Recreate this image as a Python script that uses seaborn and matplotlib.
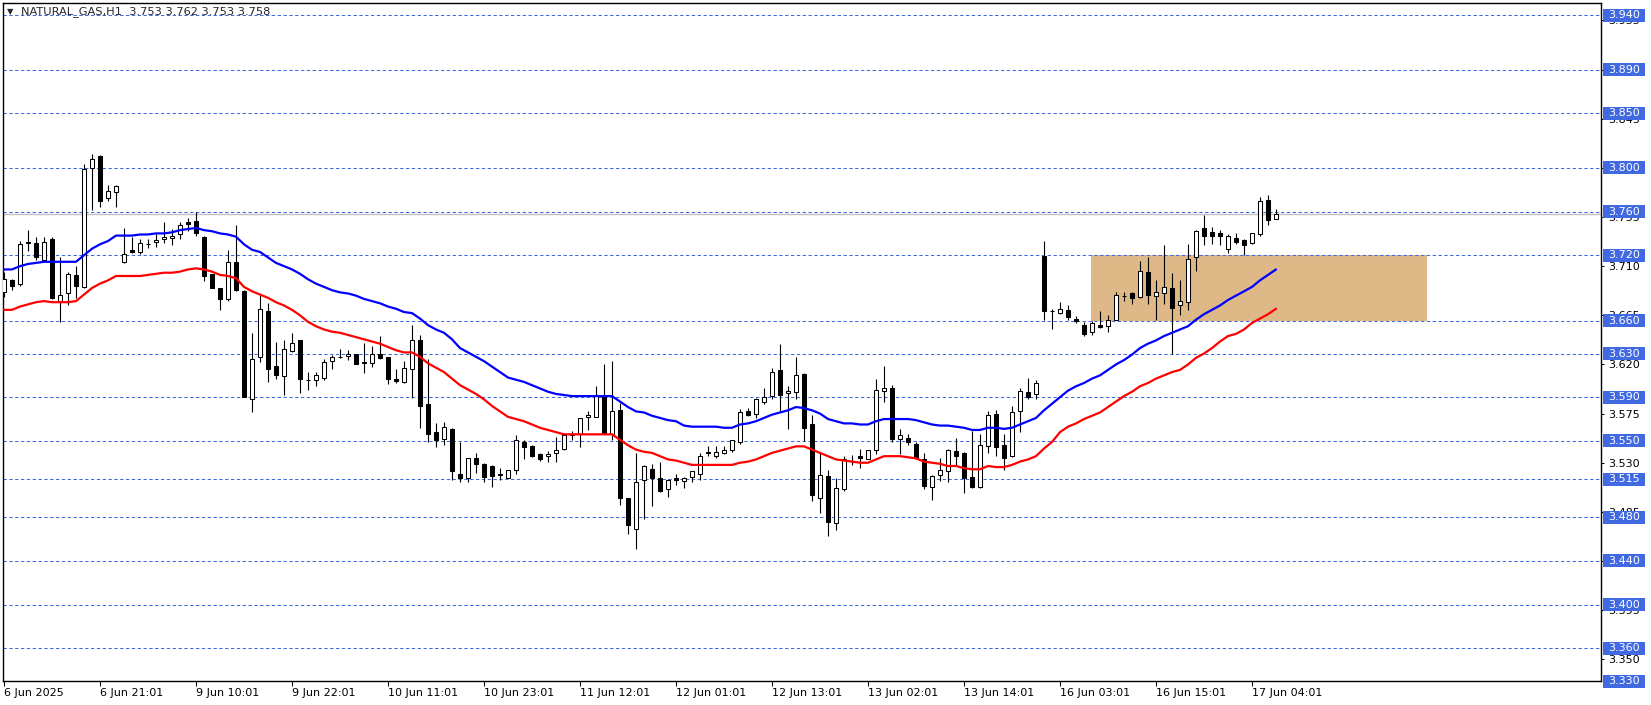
import numpy as np
import pandas as pd
import seaborn as sns
import matplotlib.pyplot as plt
from matplotlib import transforms
from matplotlib.patches import Rectangle

sns.set_style('white')
plt.rcParams['font.family'] = ['DejaVu Sans']
plt.rcParams['lines.scale_dashes'] = False

symbol = 'NATURAL_GAS,H1'

# H1 candles, one row per bar
opens = [3.686, 3.697, 3.694, 3.732, 3.731, 3.716, 3.735, 3.678, 3.685, 3.702,
         3.691, 3.800, 3.811, 3.772, 3.778, 3.714, 3.725, 3.723, 3.730, 3.732,
         3.735, 3.736, 3.739, 3.750, 3.751, 3.737, 3.703, 3.690, 3.680, 3.714,
         3.687, 3.588, 3.627, 3.669, 3.619, 3.609, 3.632, 3.642, 3.606, 3.606,
         3.608, 3.623, 3.627, 3.628, 3.630, 3.621, 3.621, 3.630, 3.627, 3.607,
         3.604, 3.616, 3.642, 3.584, 3.558, 3.552, 3.561, 3.520, 3.516, 3.534,
         3.529, 3.527, 3.519, 3.516, 3.523, 3.549, 3.545, 3.538, 3.536, 3.539,
         3.543, 3.555, 3.556, 3.572, 3.572, 3.592, 3.556, 3.578, 3.498, 3.469,
         3.514, 3.524, 3.516, 3.506, 3.516, 3.513, 3.517, 3.520, 3.539, 3.536,
         3.539, 3.542, 3.549, 3.577, 3.575, 3.586, 3.591, 3.615, 3.594, 3.595,
         3.611, 3.565, 3.498, 3.518, 3.475, 3.506, 3.532, 3.536, 3.533, 3.542,
         3.596, 3.598, 3.552, 3.553, 3.547, 3.533, 3.508, 3.519, 3.522, 3.541,
         3.539, 3.517, 3.508, 3.545, 3.575, 3.546, 3.536, 3.577, 3.595, 3.593,
         3.719, 3.669, 3.667, 3.670, 3.662, 3.656, 3.650, 3.656, 3.655, 3.661,
         3.683, 3.685, 3.682, 3.705, 3.683, 3.685, 3.690, 3.674, 3.677, 3.718,
         3.745, 3.741, 3.740, 3.726, 3.736, 3.734, 3.731, 3.739, 3.771, 3.753]
highs = [3.705, 3.698, 3.733, 3.743, 3.737, 3.737, 3.737, 3.718, 3.705, 3.710,
         3.804, 3.813, 3.812, 3.784, 3.784, 3.745, 3.737, 3.735, 3.735, 3.739,
         3.750, 3.744, 3.750, 3.754, 3.760, 3.738, 3.703, 3.690, 3.725, 3.748,
         3.688, 3.649, 3.684, 3.676, 3.641, 3.642, 3.649, 3.642, 3.613, 3.613,
         3.625, 3.629, 3.634, 3.633, 3.630, 3.640, 3.637, 3.646, 3.627, 3.616,
         3.623, 3.656, 3.647, 3.625, 3.566, 3.567, 3.562, 3.549, 3.534, 3.539,
         3.530, 3.528, 3.525, 3.523, 3.555, 3.551, 3.546, 3.539, 3.541, 3.554,
         3.556, 3.559, 3.571, 3.577, 3.600, 3.620, 3.623, 3.585, 3.498, 3.539,
         3.528, 3.529, 3.531, 3.515, 3.520, 3.517, 3.522, 3.539, 3.545, 3.545,
         3.545, 3.551, 3.579, 3.580, 3.589, 3.598, 3.617, 3.639, 3.600, 3.627,
         3.612, 3.574, 3.539, 3.523, 3.516, 3.536, 3.537, 3.543, 3.542, 3.607,
         3.619, 3.601, 3.561, 3.556, 3.549, 3.539, 3.519, 3.534, 3.543, 3.553,
         3.540, 3.559, 3.556, 3.577, 3.578, 3.556, 3.582, 3.598, 3.608, 3.606,
         3.733, 3.671, 3.677, 3.674, 3.664, 3.659, 3.660, 3.669, 3.665, 3.686,
         3.686, 3.686, 3.715, 3.718, 3.697, 3.729, 3.704, 3.697, 3.730, 3.743,
         3.757, 3.746, 3.743, 3.739, 3.740, 3.735, 3.740, 3.773, 3.775, 3.762]
lows = [3.682, 3.688, 3.692, 3.724, 3.716, 3.715, 3.680, 3.659, 3.674, 3.681,
        3.690, 3.761, 3.764, 3.770, 3.764, 3.713, 3.722, 3.721, 3.727, 3.728,
        3.731, 3.729, 3.735, 3.742, 3.738, 3.696, 3.690, 3.670, 3.678, 3.687,
        3.590, 3.576, 3.622, 3.604, 3.607, 3.592, 3.631, 3.594, 3.597, 3.600,
        3.606, 3.616, 3.626, 3.624, 3.620, 3.612, 3.618, 3.625, 3.602, 3.603,
        3.603, 3.589, 3.562, 3.549, 3.544, 3.546, 3.514, 3.512, 3.512, 3.521,
        3.512, 3.508, 3.514, 3.516, 3.520, 3.533, 3.535, 3.532, 3.531, 3.531,
        3.542, 3.551, 3.544, 3.560, 3.572, 3.556, 3.551, 3.491, 3.465, 3.451,
        3.478, 3.490, 3.503, 3.499, 3.510, 3.507, 3.512, 3.514, 3.536, 3.534,
        3.538, 3.540, 3.547, 3.573, 3.571, 3.584, 3.588, 3.577, 3.561, 3.588,
        3.550, 3.495, 3.484, 3.463, 3.468, 3.504, 3.528, 3.525, 3.533, 3.538,
        3.586, 3.549, 3.538, 3.546, 3.533, 3.506, 3.496, 3.513, 3.512, 3.527,
        3.502, 3.507, 3.507, 3.539, 3.536, 3.523, 3.535, 3.558, 3.588, 3.588,
        3.661, 3.652, 3.666, 3.661, 3.658, 3.646, 3.647, 3.653, 3.650, 3.661,
        3.678, 3.675, 3.681, 3.675, 3.661, 3.675, 3.630, 3.665, 3.670, 3.706,
        3.729, 3.730, 3.729, 3.722, 3.730, 3.720, 3.730, 3.738, 3.748, 3.753]
closes = [3.698, 3.692, 3.730, 3.731, 3.718, 3.732, 3.681, 3.684, 3.703, 3.692,
          3.799, 3.808, 3.770, 3.779, 3.783, 3.721, 3.723, 3.731, 3.730, 3.734,
          3.737, 3.738, 3.748, 3.749, 3.740, 3.701, 3.690, 3.680, 3.714, 3.688,
          3.590, 3.625, 3.671, 3.616, 3.610, 3.634, 3.640, 3.607, 3.606, 3.610,
          3.622, 3.627, 3.627, 3.630, 3.620, 3.622, 3.630, 3.626, 3.607, 3.605,
          3.617, 3.642, 3.582, 3.556, 3.551, 3.563, 3.522, 3.516, 3.534, 3.529,
          3.517, 3.518, 3.520, 3.523, 3.551, 3.544, 3.536, 3.533, 3.538, 3.542,
          3.555, 3.556, 3.571, 3.574, 3.592, 3.556, 3.577, 3.498, 3.473, 3.512,
          3.527, 3.516, 3.504, 3.514, 3.514, 3.516, 3.522, 3.536, 3.540, 3.540,
          3.542, 3.551, 3.576, 3.574, 3.588, 3.590, 3.613, 3.592, 3.596, 3.610,
          3.562, 3.500, 3.519, 3.476, 3.507, 3.533, 3.532, 3.534, 3.542, 3.597,
          3.598, 3.552, 3.555, 3.549, 3.534, 3.509, 3.518, 3.523, 3.542, 3.536,
          3.516, 3.508, 3.546, 3.574, 3.544, 3.534, 3.576, 3.596, 3.590, 3.603,
          3.669, 3.669, 3.671, 3.663, 3.660, 3.648, 3.658, 3.654, 3.661, 3.684,
          3.683, 3.681, 3.706, 3.684, 3.686, 3.691, 3.672, 3.678, 3.717, 3.742,
          3.738, 3.738, 3.738, 3.738, 3.732, 3.729, 3.740, 3.770, 3.752, 3.758]

# the two moving averages drawn on the chart
ma_blue = [3.707, 3.707, 3.710, 3.712, 3.713, 3.714, 3.714, 3.714, 3.714, 3.714,
           3.720, 3.726, 3.730, 3.733, 3.738, 3.738, 3.738, 3.739, 3.739, 3.740,
           3.740, 3.741, 3.743, 3.744, 3.745, 3.743, 3.742, 3.740, 3.739, 3.737,
           3.730, 3.725, 3.723, 3.718, 3.713, 3.710, 3.707, 3.703, 3.698, 3.694,
           3.691, 3.688, 3.686, 3.685, 3.683, 3.680, 3.678, 3.676, 3.673, 3.671,
           3.668, 3.667, 3.662, 3.656, 3.652, 3.649, 3.643, 3.635, 3.631, 3.627,
           3.623, 3.618, 3.613, 3.608, 3.606, 3.604, 3.601, 3.598, 3.595, 3.593,
           3.592, 3.591, 3.591, 3.591, 3.591, 3.591, 3.591, 3.586, 3.581, 3.577,
           3.576, 3.573, 3.571, 3.569, 3.568, 3.564, 3.563, 3.563, 3.563, 3.563,
           3.562, 3.562, 3.565, 3.566, 3.568, 3.571, 3.574, 3.576, 3.578, 3.581,
           3.580, 3.578, 3.575, 3.570, 3.568, 3.566, 3.566, 3.565, 3.565, 3.568,
           3.570, 3.570, 3.570, 3.570, 3.569, 3.567, 3.565, 3.564, 3.564, 3.563,
           3.562, 3.560, 3.560, 3.562, 3.562, 3.561, 3.562, 3.565, 3.568, 3.571,
           3.578, 3.584, 3.590, 3.596, 3.600, 3.603, 3.607, 3.610, 3.615, 3.620,
           3.624, 3.629, 3.635, 3.639, 3.642, 3.646, 3.649, 3.652, 3.655, 3.661,
           3.666, 3.670, 3.674, 3.679, 3.683, 3.687, 3.691, 3.697, 3.702, 3.707]
ma_red = [3.670, 3.670, 3.673, 3.675, 3.677, 3.678, 3.677, 3.677, 3.677, 3.678,
          3.684, 3.690, 3.694, 3.697, 3.701, 3.701, 3.701, 3.701, 3.702, 3.703,
          3.704, 3.704, 3.705, 3.707, 3.708, 3.707, 3.705, 3.702, 3.701, 3.699,
          3.691, 3.687, 3.684, 3.681, 3.677, 3.674, 3.670, 3.665, 3.659, 3.655,
          3.652, 3.650, 3.649, 3.647, 3.645, 3.643, 3.641, 3.639, 3.636, 3.633,
          3.631, 3.631, 3.627, 3.621, 3.617, 3.613, 3.607, 3.601, 3.597, 3.593,
          3.588, 3.582, 3.577, 3.572, 3.570, 3.568, 3.565, 3.562, 3.560, 3.558,
          3.556, 3.556, 3.556, 3.556, 3.556, 3.556, 3.556, 3.551, 3.546, 3.542,
          3.540, 3.539, 3.536, 3.533, 3.532, 3.530, 3.528, 3.528, 3.528, 3.528,
          3.528, 3.528, 3.530, 3.531, 3.533, 3.536, 3.539, 3.541, 3.543, 3.545,
          3.545, 3.542, 3.539, 3.536, 3.533, 3.532, 3.531, 3.530, 3.530, 3.533,
          3.536, 3.536, 3.536, 3.535, 3.534, 3.531, 3.530, 3.529, 3.527, 3.527,
          3.525, 3.524, 3.524, 3.527, 3.526, 3.526, 3.528, 3.531, 3.533, 3.536,
          3.543, 3.549, 3.558, 3.563, 3.566, 3.570, 3.573, 3.576, 3.581, 3.586,
          3.591, 3.595, 3.600, 3.603, 3.607, 3.610, 3.613, 3.615, 3.620, 3.626,
          3.630, 3.635, 3.641, 3.646, 3.648, 3.652, 3.658, 3.662, 3.666, 3.671]

# horizontal levels (blue dashed lines with price tags)
levels = [3.940, 3.890, 3.850, 3.800, 3.760, 3.720, 3.660, 3.630,
          3.590, 3.550, 3.515, 3.480, 3.440, 3.400, 3.360, 3.330]
# price scale of the chart
scale_ticks = [3.350, 3.395, 3.440, 3.485, 3.530, 3.575, 3.620,
               3.665, 3.710, 3.755, 3.800, 3.845, 3.890, 3.935]
time_tick_bars = [0, 12, 24, 36, 48, 60, 72, 84, 96, 108, 120, 132, 144, 156]
time_tick_labels = ['6 Jun 2025', '6 Jun 21:01', '9 Jun 10:01', '9 Jun 22:01',
                    '10 Jun 11:01', '10 Jun 23:01', '11 Jun 12:01', '12 Jun 01:01',
                    '12 Jun 13:01', '13 Jun 02:01', '13 Jun 14:01', '16 Jun 03:01',
                    '16 Jun 15:01', '17 Jun 04:01']
# supply/demand zone box
zone_start_bar, zone_end_bar = 135.9, 177.9
zone_low, zone_high = 3.660, 3.720

W, H = 1651, 705
LEVEL_BLUE = '#4169E1'
fig = plt.figure(figsize=(W/100, H/100), dpi=100)
ax = fig.add_axes([3/W, 24/H, 1598/W, 678/H])

bars = np.arange(len(opens))
o = np.array(opens)
c = np.array(closes)
up = c > o
body_low = np.minimum(o, c)
body_h = np.abs(c - o)

ax.add_patch(Rectangle((zone_start_bar, zone_low), zone_end_bar-zone_start_bar,
                       zone_high-zone_low, facecolor='#DEB887', edgecolor='none', zorder=0.8))
for lv in levels:
    ax.axhline(lv, color=LEVEL_BLUE, lw=0.75, ls=(0, (2.4, 1.8)), zorder=1)
ax.axhline(closes[-1], color='#C0C0C0', lw=1.0, zorder=1.2)

ax.vlines(bars, lows, highs, color='black', lw=0.8, zorder=3)
ax.bar(bars[up], body_h[up], bottom=body_low[up], width=0.52,
       color='white', edgecolor='black', lw=0.75, zorder=4)
ax.bar(bars[~up], body_h[~up], bottom=body_low[~up], width=0.52,
       color='black', edgecolor='black', lw=0.75, zorder=4)

df = pd.DataFrame({'bar': bars, 'ma_blue': ma_blue, 'ma_red': ma_red})
sns.lineplot(data=df, x='bar', y='ma_blue', color='#0000FF', lw=1.6, ax=ax, zorder=5)
sns.lineplot(data=df, x='bar', y='ma_red', color='#FF0000', lw=1.6, ax=ax, zorder=5)
ax.set_xlabel('')
ax.set_ylabel('')

ax.set_xlim(-0.125, 199.625)
ax.set_ylim(3.3301, 3.9510)
for s in ax.spines.values():
    s.set_color('black')
    s.set_linewidth(1.0)

ax.yaxis.tick_right()
ax.set_yticks(scale_ticks)
ax.set_yticklabels(['%.3f' % v for v in scale_ticks])
ax.tick_params(axis='y', right=True, left=False, length=2.2, width=0.75,
               pad=2.9, labelsize=8, colors='black')
ax.set_xticks(time_tick_bars)
ax.set_xticklabels(time_tick_labels, ha='left')
ax.tick_params(axis='x', bottom=True, length=3.6, width=0.75, pad=1.5,
               labelsize=8, colors='black')

trans = transforms.blended_transform_factory(ax.transAxes, ax.transData)
box_h = 13/1092
for lv in levels:
    ax.add_patch(Rectangle((1600/1598, lv-box_h/2), 42/1598, box_h, transform=trans,
                           facecolor=LEVEL_BLUE, edgecolor='none', clip_on=False, zorder=6))
    ax.text(1605/1598, lv, '%.3f' % lv, transform=trans, color='white', fontsize=8,
            va='center', ha='left', zorder=7, clip_on=False)

fig.text(7/W, 1-12/H, '\u25bc', fontsize=6, va='center', ha='left')
fig.text(21/W, 1-12/H, '%s  %.3f %.3f %.3f %.3f' % (symbol, opens[-1], highs[-1], lows[-1], closes[-1]),
         fontsize=8.2, va='center', ha='left')

fig.savefig('out.png', dpi=100)
